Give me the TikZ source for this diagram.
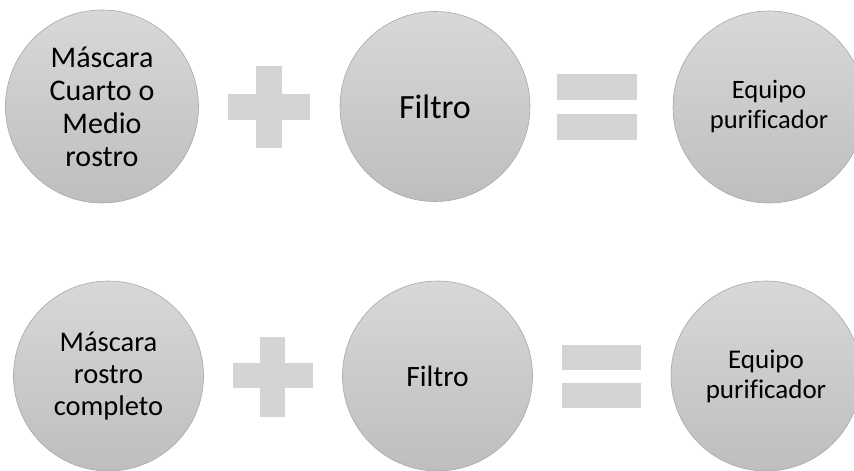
\documentclass[tikz,border=0pt]{standalone}
\usepackage{fontspec}
\setmainfont[Ligatures=NoCommon]{Carlito}
\definecolor{ctop}{HTML}{D8D8D8}
\definecolor{cbot}{HTML}{BEBEBE}
\definecolor{cline}{HTML}{A8A8A8}
\definecolor{sym}{HTML}{D4D4D4}
\begin{document}
\begin{tikzpicture}[x=1pt,y=-1pt,
  disc/.style={circle, minimum size=#1, inner sep=0pt, draw=cline, line width=0.6pt,
    top color=ctop, bottom color=cbot, align=center, text=black},
  bar/.style={rectangle, fill=sym, inner sep=0pt}]
\useasboundingbox (0,0) rectangle (854,471);
\clip (0,0) rectangle (854,471);
% top row
\node[disc=193pt, font=\fontsize{30}{33}\selectfont] (c1) at (102,106.5) {Máscara\\Cuarto o\\Medio\\rostro};
\node[bar, minimum width=82pt, minimum height=26pt] (p1h) at (269,107) {};
\node[bar, minimum width=26pt, minimum height=82pt] (p1v) at (269,107) {};
\node[disc=190pt, font=\fontsize{34}{37}\selectfont] (c2) at (435,106.5) {Filtro};
\node[bar, minimum width=80pt, minimum height=26pt] (e1a) at (597,87) {};
\node[bar, minimum width=80pt, minimum height=26pt] (e1b) at (597,126.5) {};
\node[disc=192pt, font=\fontsize{26.5}{30}\selectfont] (c3) at (769,107) {Equipo\\purificador};
% bottom row
\node[disc=190pt, font=\fontsize{28.5}{32}\selectfont] (d1) at (108.5,376) {Máscara\\rostro\\completo};
\node[bar, minimum width=80pt, minimum height=25pt] (p2h) at (272.5,375.5) {};
\node[bar, minimum width=25pt, minimum height=80pt] (p2v) at (272.5,377) {};
\node[disc=190pt, font=\fontsize{29.5}{33}\selectfont] (d2) at (437.5,376) {Filtro};
\node[bar, minimum width=79pt, minimum height=25pt] (e2a) at (601.5,357.5) {};
\node[bar, minimum width=79pt, minimum height=25pt] (e2b) at (601.5,395.5) {};
\node[disc=190pt, font=\fontsize{27}{30}\selectfont] (d3) at (766,376) {Equipo\\purificador};
\end{tikzpicture}
\end{document}
